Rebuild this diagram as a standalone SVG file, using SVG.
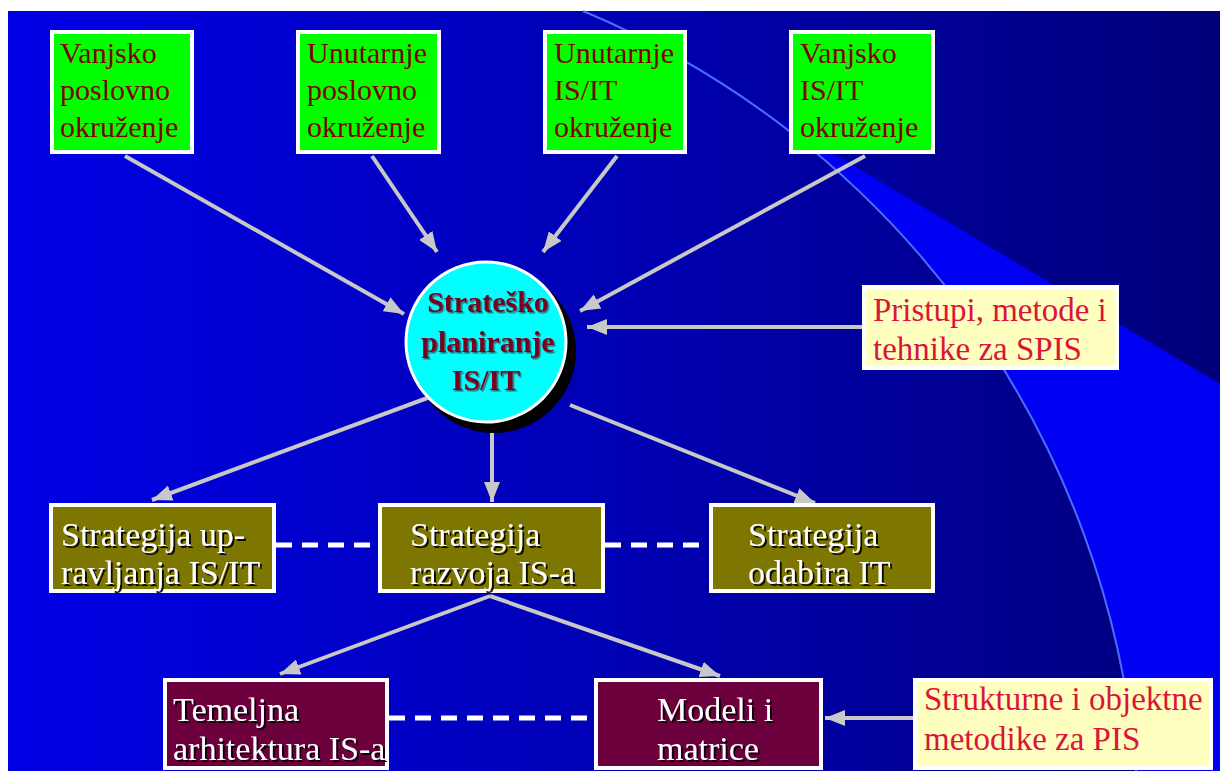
<svg xmlns="http://www.w3.org/2000/svg" width="1220" height="771" viewBox="0 0 1220 771">
<defs>
<linearGradient id="bg" x1="0" y1="0" x2="1" y2="0">
<stop offset="0" stop-color="#0000E6"/>
<stop offset="0.5" stop-color="#0000B4"/>
<stop offset="1" stop-color="#00007A"/>
</linearGradient>
<marker id="ah" viewBox="0 0 20 16" refX="20" refY="8" markerWidth="20" markerHeight="16" markerUnits="userSpaceOnUse" orient="auto">
<path d="M0,0 L20,8 L0,16 z" fill="#C8C8C8"/>
</marker>
<filter id="sh" x="-10%" y="-10%" width="130%" height="140%">
<feDropShadow dx="2" dy="2" stdDeviation="0.4" flood-color="#000" flood-opacity="0.9"/>
</filter>
<filter id="sh2" x="-10%" y="-10%" width="130%" height="140%">
<feDropShadow dx="1.5" dy="1.5" stdDeviation="0.4" flood-color="#333" flood-opacity="0.7"/>
</filter>
</defs>
<style>
.green{fill:#00FF00;stroke:#FFFFFF;stroke-width:4}
.yel{fill:#FFFFC0;stroke:#FFFFFF;stroke-width:4}
.olive{fill:#7D7600;stroke:#FFFFFF;stroke-width:4}
.maroon{fill:#6C003C;stroke:#FFFFFF;stroke-width:4}
.tg{font-family:"Liberation Serif","Times New Roman",serif;font-size:30px;fill:#800000}
.tr{font-family:"Liberation Serif","Times New Roman",serif;font-size:33px;fill:#DC143C}
.tw{font-family:"Liberation Serif","Times New Roman",serif;font-size:34px;fill:#FFFFFF;filter:url(#sh)}
.tc{font-family:"Liberation Serif","Times New Roman",serif;font-size:30px;font-weight:bold;fill:#7A0020;text-anchor:middle;filter:url(#sh2)}
.con{stroke:#C8C8C8;stroke-width:4;fill:none;marker-end:url(#ah)}
.dash{stroke:#FFFFFF;stroke-width:5;stroke-dasharray:16 10;fill:none}
</style>
<rect x="0" y="0" width="1220" height="771" fill="#FFFFFF"/>
<g id="background">
<rect x="8" y="11" width="1212" height="760" fill="url(#bg)"/>
<path d="M765,113 L1220,384 L1220,771 L1136,771 A903.5 903.5 0 0 0 765,113 z" fill="#0000F2"/>
<path d="M583,11 A903.5 903.5 0 0 1 1136,771" fill="none" stroke="#4A6CFF" stroke-width="2"/>
</g>
<g id="connectors">
<line class="con" x1="125" y1="156" x2="404" y2="314"/>
<line class="con" x1="372" y1="156" x2="437" y2="252"/>
<line class="con" x1="617" y1="156" x2="543" y2="252"/>
<line class="con" x1="865" y1="156" x2="580" y2="311"/>
<line class="con" x1="862" y1="327" x2="587" y2="327"/>
<line class="con" x1="430" y1="397" x2="152" y2="500"/>
<line class="con" x1="492" y1="432" x2="492" y2="502"/>
<line class="con" x1="570" y1="405" x2="815" y2="503"/>
<line class="con" x1="490" y1="596" x2="280" y2="674"/>
<line class="con" x1="490" y1="596" x2="720" y2="676"/>
<line class="con" x1="913" y1="718" x2="825" y2="718"/>
<line class="dash" x1="276" y1="545" x2="378" y2="545"/>
<line class="dash" x1="605" y1="545" x2="709" y2="545"/>
<line class="dash" x1="389" y1="718" x2="594" y2="718"/>
</g>
<g id="n-vanjsko-poslovno">
<rect class="green" x="52" y="32" width="140" height="120"/>
<text class="tg" x="60" y="63">Vanjsko</text>
<text class="tg" x="60" y="100">poslovno</text>
<text class="tg" x="60" y="137">okruženje</text>
</g>
<g id="n-unutarnje-poslovno">
<rect class="green" x="298" y="32" width="141" height="120"/>
<text class="tg" x="307" y="63">Unutarnje</text>
<text class="tg" x="307" y="100">poslovno</text>
<text class="tg" x="307" y="137">okruženje</text>
</g>
<g id="n-unutarnje-isit">
<rect class="green" x="545" y="32" width="140" height="120"/>
<text class="tg" x="554" y="63">Unutarnje</text>
<text class="tg" x="554" y="100">IS/IT</text>
<text class="tg" x="554" y="137">okruženje</text>
</g>
<g id="n-vanjsko-isit">
<rect class="green" x="791" y="32" width="142" height="120"/>
<text class="tg" x="800" y="63">Vanjsko</text>
<text class="tg" x="800" y="100">IS/IT</text>
<text class="tg" x="800" y="137">okruženje</text>
</g>
<g id="n-strateško">
<circle cx="494" cy="351" r="82" fill="#000000"/>
<circle cx="486" cy="342" r="80" fill="#00FFFF" stroke="#FFFFFF" stroke-width="3"/>
<text class="tc" x="488" y="312">Strateško</text>
<text class="tc" x="488" y="352">planiranje</text>
<text class="tc" x="486" y="390">IS/IT</text>
</g>
<g id="n-pristupi">
<rect class="yel" x="864" y="287" width="253" height="81"/>
<text class="tr" x="873" y="321">Pristupi, metode i</text>
<text class="tr" x="873" y="360">tehnike za SPIS</text>
</g>
<g id="n-upravljanja">
<rect class="olive" x="51" y="505" width="223" height="86"/>
<text class="tw" x="61" y="546">Strategija up-</text>
<text class="tw" x="61" y="584">ravljanja IS/IT</text>
</g>
<g id="n-razvoja">
<rect class="olive" x="380" y="505" width="223" height="86"/>
<text class="tw" x="410" y="546">Strategija</text>
<text class="tw" x="410" y="584">razvoja IS-a</text>
</g>
<g id="n-odabira">
<rect class="olive" x="711" y="505" width="222" height="86"/>
<text class="tw" x="748" y="546">Strategija</text>
<text class="tw" x="748" y="584">odabira IT</text>
</g>
<g id="n-temeljna">
<rect class="maroon" x="165" y="680" width="222" height="88"/>
<text class="tw" x="173" y="721">Temeljna</text>
<text class="tw" x="173" y="760">arhitektura IS-a</text>
</g>
<g id="n-modeli">
<rect class="maroon" x="596" y="680" width="225" height="88"/>
<text class="tw" x="657" y="721">Modeli i</text>
<text class="tw" x="657" y="760">matrice</text>
</g>
<g id="n-strukturne">
<rect class="yel" x="915" y="680" width="296" height="88"/>
<text class="tr" x="924" y="710">Strukturne i objektne</text>
<text class="tr" x="924" y="750">metodike za PIS</text>
</g>
</svg>
